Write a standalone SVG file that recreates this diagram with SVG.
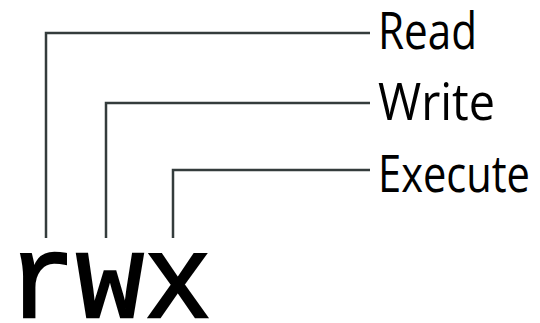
<svg xmlns="http://www.w3.org/2000/svg" width="540" height="323" viewBox="0 0 540 323">
<style>
.c{fill:none;stroke:#343c3c;stroke-width:2.5}
.lbl{font-family:"Open Sans","Noto Sans",sans-serif;font-size:52px;fill:#000}
.big{font-family:"Liberation Mono",monospace;font-size:118px;fill:#000;stroke:#000;stroke-width:2.5}
</style>
<rect width="540" height="323" fill="#fff"/>
<g id="connectors">
<polyline class="c" points="46,238 46,33 370,33"/>
<polyline class="c" points="106,238 106,103 370,103"/>
<polyline class="c" points="173,238 173,170 370,170"/>
</g>
<g id="rwx"><text class="big" transform="translate(8,317) scale(0.96,1)" x="0" y="0">rwx</text></g>
<g id="read"><text class="lbl" x="378" y="49" textLength="99" lengthAdjust="spacingAndGlyphs">Read</text></g>
<g id="write"><text class="lbl" x="378" y="120" textLength="117" lengthAdjust="spacingAndGlyphs">Write</text></g>
<g id="execute"><text class="lbl" x="378" y="192" textLength="152" lengthAdjust="spacingAndGlyphs">Execute</text></g>
</svg>
